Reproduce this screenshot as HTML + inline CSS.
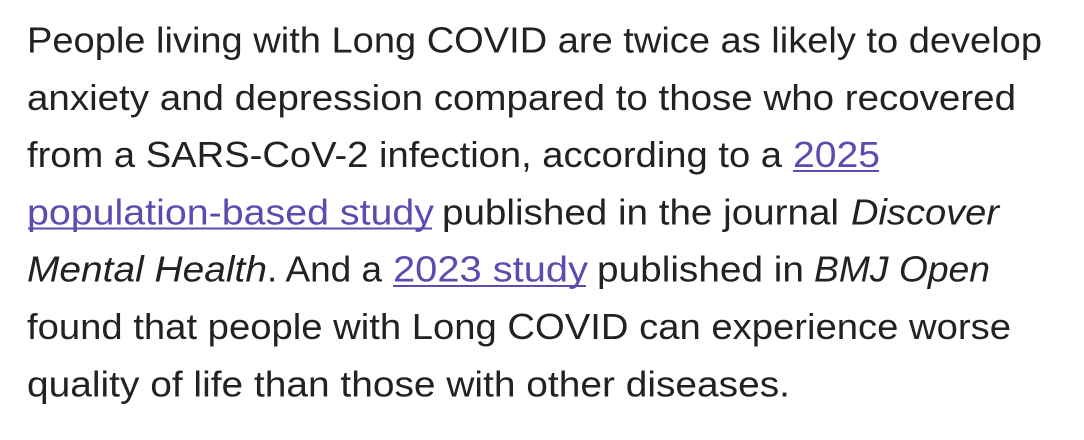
<!DOCTYPE html>
<html><head><meta charset="utf-8"><style>
html,body{margin:0;padding:0;background:#fff;}
svg{display:block;}
text{font-family:"Liberation Sans",sans-serif;font-size:36px;fill:#222;}
.l{fill:#5a4db0;}
.i{font-style:italic;}
</style></head><body>
<svg width="1084" height="440" viewBox="0 0 1084 440" xmlns="http://www.w3.org/2000/svg">
<rect width="1084" height="440" fill="#fff"/>
<text x="27" y="52.5" textLength="1015" lengthAdjust="spacingAndGlyphs">People living with Long COVID are twice as likely to develop</text>
<text x="27" y="109.8" textLength="989" lengthAdjust="spacingAndGlyphs">anxiety and depression compared to those who recovered</text>
<text x="27" y="167.1" textLength="755" lengthAdjust="spacingAndGlyphs">from a SARS-CoV-2 infection, according to a</text>
<text class="l" x="793" y="167.1" textLength="87" lengthAdjust="spacingAndGlyphs">2025</text>
<rect x="793" y="170" width="86" height="2" fill="#5a4db0"/>
<text class="l" x="27" y="224.4" textLength="407" lengthAdjust="spacingAndGlyphs">population-based study</text>
<rect x="28" y="227.5" width="404" height="2" fill="#5a4db0"/>
<text x="442" y="224.4" textLength="397" lengthAdjust="spacingAndGlyphs">published in the journal</text>
<text class="i" x="851" y="224.4" textLength="148" lengthAdjust="spacingAndGlyphs">Discover</text>
<text class="i" x="27" y="281.7" textLength="240" lengthAdjust="spacingAndGlyphs">Mental Health</text>
<text x="267" y="281.7" textLength="115" lengthAdjust="spacingAndGlyphs">. And a</text>
<text class="l" x="393" y="281.7" textLength="195" lengthAdjust="spacingAndGlyphs">2023 study</text>
<rect x="393" y="285" width="193" height="2" fill="#5a4db0"/>
<text x="597" y="281.7" textLength="207" lengthAdjust="spacingAndGlyphs">published in</text>
<text class="i" x="814" y="281.7" textLength="176" lengthAdjust="spacingAndGlyphs">BMJ Open</text>
<text x="27" y="339" textLength="984" lengthAdjust="spacingAndGlyphs">found that people with Long COVID can experience worse</text>
<text x="27" y="396.3" textLength="763" lengthAdjust="spacingAndGlyphs">quality of life than those with other diseases.</text>
</svg>
</body></html>
